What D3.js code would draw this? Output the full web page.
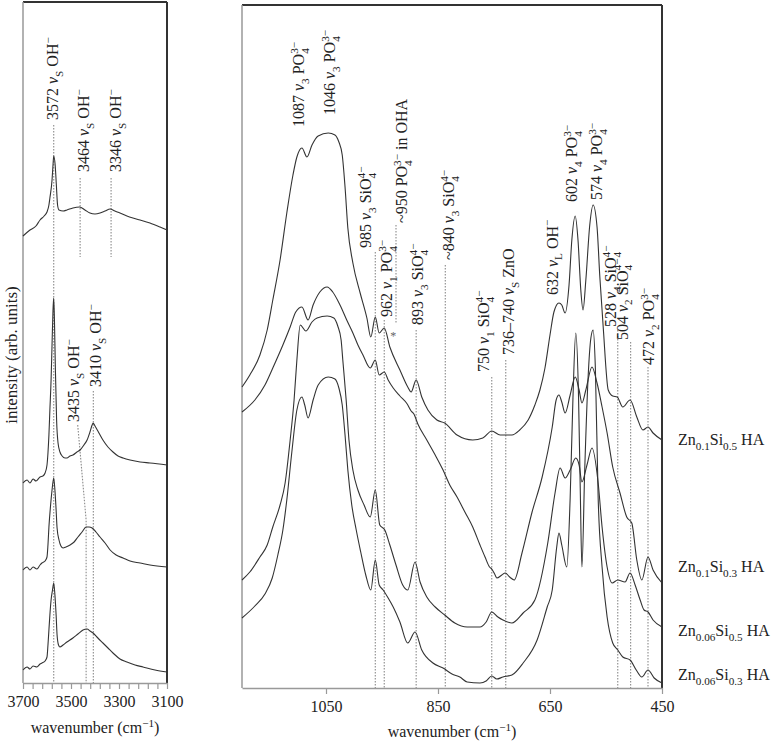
<!DOCTYPE html>
<html><head><meta charset="utf-8">
<script src="https://cdn.jsdelivr.net/npm/d3@7"></script>
<style>
body{margin:0;background:#fff;}
svg{display:block;font-family:"Liberation Serif","Times New Roman",serif;}
text{white-space:pre;fill:#222;}
</style>
</head><body>
<svg id="c" width="776" height="742"></svg>
<script>
// ---------------- DATA ----------------
// OH stretching region (left panel): [wavenumber, intensity (arb. units)]
const ohZn01Si05 = [[3700,447],[3671,453],[3646,457],[3629,463],[3612,467],[3600,471],[3592,478],[3588,485],[3579,503],[3575,518],[3572,527],[3566,518],[3561,498],[3556,478],[3550,473],[3533,472],[3517,473],[3492,475],[3464,476],[3442,473],[3421,470],[3400,469],[3379,470],[3358,472],[3337,474],[3317,472],[3296,470],[3267,467],[3242,465],[3212,463],[3171,460],[3129,456],[3100,453]];
const ohZn01Si03 = [[3700,200],[3683,203],[3671,200],[3658,204],[3646,202],[3629,206],[3617,207],[3608,210],[3600,218],[3596,230],[3592,248],[3588,273],[3583,303],[3579,338],[3575,373],[3572,385],[3569,363],[3565,313],[3560,263],[3554,240],[3546,231],[3537,227],[3525,225],[3517,225],[3504,227],[3492,228],[3475,231],[3462,233],[3446,238],[3433,243],[3421,251],[3412,258],[3408,260],[3400,257],[3388,252],[3367,243],[3346,236],[3325,231],[3304,227],[3283,225],[3254,223],[3212,221],[3171,220],[3100,218]];
const ohZn006Si05 = [[3700,113],[3683,116],[3671,113],[3658,116],[3642,114],[3629,118],[3621,120],[3608,122],[3600,126],[3596,138],[3592,156],[3585,178],[3579,193],[3572,205],[3567,193],[3562,173],[3558,155],[3550,143],[3542,137],[3533,135],[3521,136],[3504,138],[3487,141],[3471,146],[3454,151],[3437,156],[3425,156],[3412,155],[3396,151],[3379,146],[3358,140],[3337,133],[3312,128],[3283,125],[3254,122],[3212,120],[3171,118],[3100,116]];
const ohZn006Si03 = [[3700,13],[3683,16],[3671,14],[3658,17],[3642,16],[3629,19],[3621,20],[3608,22],[3600,26],[3596,38],[3592,53],[3588,68],[3583,83],[3577,93],[3572,100],[3567,88],[3562,68],[3558,48],[3552,38],[3546,36],[3533,38],[3517,41],[3492,45],[3471,49],[3450,53],[3433,54],[3421,52],[3408,50],[3388,45],[3367,40],[3346,35],[3325,30],[3296,24],[3267,21],[3233,18],[3200,16],[3150,13],[3100,11]];

// Phosphate / silicate region (right panel): [wavenumber, intensity (arb. units)]
const poZn01Si05 = [[1200,301],[1186,313],[1168,333],[1155,358],[1145,388],[1132,428],[1120,475],[1109,513],[1102,531],[1093,540],[1084,531],[1075,543],[1064,552],[1046,555],[1034,553],[1027,546],[1021,533],[1016,501],[1011,460],[1002,425],[989,395],[977,370],[970,351],[962,371],[955,355],[946,360],[936,341],[918,318],[904,301],[898,296],[889,308],[879,291],[868,278],[852,268],[838,265],[816,253],[788,248],[770,250],[754,257],[739,253],[718,253],[704,258],[689,268],[677,283],[668,298],[659,320],[650,353],[643,376],[634,385],[629,383],[623,375],[616,403],[611,448],[605,472],[600,448],[595,398],[591,378],[586,408],[579,463],[573,483],[566,461],[561,411],[555,361],[546,298],[538,292],[530,291],[520,281],[507,288],[495,271],[484,258],[475,261],[466,255],[450,248]];
const poZn01Si03 = [[1200,276],[1177,288],[1159,303],[1145,320],[1127,343],[1114,361],[1104,376],[1093,381],[1082,368],[1073,383],[1061,396],[1048,401],[1038,396],[1025,383],[1013,368],[1002,355],[993,343],[984,333],[971,320],[962,328],[955,313],[946,316],[939,308],[930,300],[918,292],[905,284],[898,277],[893,274],[886,264],[870,248],[855,233],[841,218],[829,203],[816,191],[802,176],[788,161],[775,143],[766,131],[758,121],[754,119],[748,113],[745,110],[736,113],[730,115],[722,111],[714,108],[700,135],[682,176],[664,211],[646,261],[639,288],[634,293],[629,286],[623,275],[614,293],[605,311],[598,298],[593,285],[586,298],[575,321],[566,305],[557,281],[548,255],[538,221],[525,195],[513,171],[504,165],[495,128],[486,108],[475,131],[466,118],[450,105]];
const poZn006Si05 = [[1200,108],[1186,116],[1168,131],[1155,143],[1145,161],[1132,183],[1123,205],[1114,248],[1107,288],[1102,328],[1096,363],[1086,357],[1075,366],[1066,370],[1048,372],[1036,370],[1029,362],[1023,348],[1020,328],[1014,288],[1009,248],[1002,218],[993,198],[982,183],[971,171],[962,198],[954,163],[945,158],[936,143],[925,123],[913,103],[904,98],[891,126],[882,106],[870,91],[855,81],[838,73],[820,65],[798,61],[775,61],[764,66],[754,76],[743,71],[734,68],[718,65],[698,75],[677,88],[654,145],[641,195],[632,220],[623,210],[614,218],[604,230],[598,223],[593,206],[584,223],[575,240],[564,205],[557,161],[548,121],[539,105],[529,108],[516,106],[507,115],[498,103],[489,88],[482,78],[475,76],[466,68],[450,61]];
const poZn006Si03 = [[1200,70],[1177,82],[1159,94],[1146,110],[1136,133],[1127,158],[1120,188],[1111,236],[1102,278],[1093,291],[1088,283],[1082,270],[1073,288],[1064,303],[1046,311],[1034,309],[1027,300],[1021,283],[1016,253],[1011,218],[1004,183],[996,158],[988,136],[979,113],[970,98],[962,128],[955,103],[948,98],[939,90],[930,81],[918,66],[904,45],[891,56],[879,38],[859,25],[841,20],[825,14],[811,11],[798,6],[775,5],[764,7],[754,12],[745,9],[734,11],[718,13],[698,25],[673,48],[655,81],[646,98],[638,141],[634,155],[629,143],[620,121],[614,190],[609,290],[604,355],[599,290],[596,200],[593,121],[588,218],[582,310],[577,350],[573,358],[569,320],[564,190],[557,121],[548,71],[538,45],[529,38],[520,31],[507,28],[496,18],[486,11],[475,18],[464,10],[450,5]];

const sampleNames = ["Zn|_0.1|Si|_0.5| HA","Zn|_0.1|Si|_0.3| HA","Zn|_0.06|Si|_0.5| HA","Zn|_0.06|Si|_0.3| HA"];
const sampleLabelLevel = [248,121,57,13];

// left-panel band labels
const ohBandLabels = ["3572 |*ν|_S| OH|^−","3464 |*ν|_S| OH|^−","3346 |*ν|_S| OH|^−","3435 |*ν|_S| OH|^−","3410 |*ν|_S| OH|^−"];
const ohBandTextWn = [3575,3446,3312,3487,3396];
const ohBandTextBase = [563,511,511,261,296];
const ohBandLines = [
  [[3572,558],[3572,0]],
  [[3462,505],[3462,426]],
  [[3333,505],[3333,426]],
  [[3472,258],[3437,163],[3437,0]],
  [[3407,292],[3407,0]]
];

// right-panel band labels
const poBandLabels = ["1087 |*ν|_3| PO|_4|^3−","1046 |*ν|_3| PO|_4|^3−","985 |*ν|_3| SiO|_4|^4−","962 |*ν|_1| PO|_4|^3−","~950 PO|_4|^3−| in OHA","893 |*ν|_3| SiO|_4|^4−","~840 |*ν|_3| SiO|_4|^4−","750 |*ν|_1| SiO|_4|^4−","736–740 |*ν|_S| ZnO","632 |*ν|_L| OH|^−","602 |*ν|_4| PO|_4|^3−","574 |*ν|_4| PO|_4|^3−","528 |*ν|_4| SiO|_4|^4−","504 |*ν|_2| SiO|_4|^4−","472 |*ν|_2| PO|_4|^3−"];
const poBandTextWn = [1098,1043,979,941,914,886,830,768,723,646,611,566,541,521,473];
const poBandTextBase = [561,573,440,371,465,363,428,316,333,393,486,488,361,348,323];
const poBandLines = [null,null,[[962,436],[962,0]],[[946,368],[946,0]],[[925,463],[925,365]],[[889,358],[889,0]],[[837,423],[837,0]],[[754,311],[754,0]],[[729,328],[729,0]],null,null,null,[[529,358],[529,0]],[[506,346],[506,0]],[[475,321],[475,0]]];
const asteriskPos = [930,353];

const ohMinorTicks = [3700,3660,3620,3580,3540,3500,3460,3420,3380,3340,3300,3260,3220,3180,3140,3100];
const ohTickLabels = [3700,3500,3300,3100];
const poTickLabels = [1050,850,650,450];

// ---------------- DRAW ----------------
const svg = d3.select("#c");
const FS = 16;

function rich(sel, spec, fs){
  const sfs = fs*0.7;
  let shift = 0, prevSub = false, prevW = 0;
  spec.split("|").forEach(seg=>{
    let type = "n", t = seg;
    if(seg[0]==="_"){type="sub"; t=seg.slice(1);}
    else if(seg[0]==="^"){type="sup"; t=seg.slice(1);}
    else if(seg[0]==="*"){type="it"; t=seg.slice(1);}
    const ts = sel.append("tspan").text(t);
    let target = 0;
    if(type==="sub"){ target = fs*0.3; ts.attr("font-size",sfs); }
    else if(type==="sup"){ target = -fs*0.4; ts.attr("font-size",sfs); if(prevSub) ts.attr("dx",-prevW); }
    else if(type==="it"){ ts.attr("font-style","italic"); }
    if(target!==shift){ ts.attr("dy",(target-shift).toFixed(2)); shift = target; }
    prevSub = type==="sub"; prevW = t.length*sfs*0.5;
  });
}

// scales
const lx = d3.scaleLinear().domain([3700,3100]).range([23,167]);
const ly = d3.scaleLinear().domain([0,681]).range([683,2]);
const rx = d3.scaleLinear().domain([1200,450]).range([242,662]);
const ry = d3.scaleLinear().domain([0,683]).range([688,5]);

function frame(xs, ys){
  const [x0,x1] = xs.range(), [y0,y1] = [ys.range()[1], ys.range()[0]];
  svg.append("line").attr("x1",x0).attr("x2",x1).attr("y1",y0).attr("y2",y0).attr("stroke","#333").attr("stroke-width",2);
  svg.append("line").attr("x1",x1).attr("x2",x1).attr("y1",y0).attr("y2",y1).attr("stroke","#333").attr("stroke-width",2);
  svg.append("line").attr("x1",x0).attr("x2",x0).attr("y1",y0).attr("y2",y1).attr("stroke","#999").attr("stroke-width",1.5);
}

function bottomAxis(xs, ys, tickVals, labelVals){
  const g = svg.append("g").attr("transform",`translate(0,${ys.range()[0]})`);
  g.call(d3.axisBottom(xs).tickValues(tickVals).tickSize(6).tickSizeOuter(0).tickPadding(7)
     .tickFormat(d=> labelVals.includes(d) ? d : ""));
  g.select(".domain").attr("stroke","#999").attr("stroke-width",1.5);
  g.selectAll(".tick line").attr("stroke","#999").attr("stroke-width",1.2);
  g.selectAll(".tick text").attr("font-family","Liberation Serif, serif").attr("font-size",FS).attr("fill","#222");
  g.attr("font-family",null);
}

function dotted(pts, xs, ys){
  svg.append("path").attr("d", d3.line().x(d=>xs(d[0])).y(d=>ys(d[1]))(pts))
    .attr("fill","none").attr("stroke","#8a8a8a").attr("stroke-width",1.1).attr("stroke-dasharray","1.6,1.4");
}

function bandLabel(spec, wn, base, xs, ys){
  const x = xs(wn) + 0.33*FS, y = ys(base);
  const t = svg.append("text").attr("transform",`translate(${x},${y}) rotate(-90)`).attr("font-size",FS);
  rich(t, spec, FS);
}

const spec = d3.line().curve(d3.curveMonotoneX);

// ---- left panel
frame(lx, ly);
bottomAxis(lx, ly, ohMinorTicks, ohTickLabels);
ohBandLines.forEach(l=>dotted(l, lx, ly));
[ohZn01Si05, ohZn01Si03, ohZn006Si05, ohZn006Si03].forEach(s=>{
  svg.append("path").attr("d", spec.x(d=>lx(d[0])).y(d=>ly(d[1]))(s))
    .attr("fill","none").attr("stroke","#333").attr("stroke-width",1.1);
});
ohBandLabels.forEach((s,i)=>bandLabel(s, ohBandTextWn[i], ohBandTextBase[i], lx, ly));
{
  const t = svg.append("text").attr("x", d3.mean(lx.range())).attr("y",733).attr("text-anchor","middle").attr("font-size",FS);
  rich(t, "wavenumber (cm|^−1|)", FS);
  svg.append("text").attr("transform","translate(16.5,355) rotate(-90)").attr("text-anchor","middle")
    .attr("font-size",17).text("intensity (arb. units)");
}

// ---- right panel
frame(rx, ry);
bottomAxis(rx, ry, poTickLabels, poTickLabels);
poBandLines.forEach(l=>{ if(l) dotted(l, rx, ry); });
[poZn01Si05, poZn01Si03, poZn006Si05, poZn006Si03].forEach(s=>{
  svg.append("path").attr("d", spec.x(d=>rx(d[0])).y(d=>ry(d[1]))(s))
    .attr("fill","none").attr("stroke","#333").attr("stroke-width",1.1);
});
poBandLabels.forEach((s,i)=>bandLabel(s, poBandTextWn[i], poBandTextBase[i], rx, ry));
svg.append("text").attr("x",rx(asteriskPos[0])).attr("y",ry(asteriskPos[1])+5).attr("text-anchor","middle")
  .attr("font-size",12).style("fill","#666").text("*");
{
  const t = svg.append("text").attr("x", d3.mean(rx.range())).attr("y",737).attr("text-anchor","middle").attr("font-size",FS);
  rich(t, "wavenumber (cm|^−1|)", FS);
}
sampleNames.forEach((s,i)=>{
  const t = svg.append("text").attr("x",678).attr("y",ry(sampleLabelLevel[i])+5).attr("font-size",FS);
  rich(t, s, FS);
});
</script>
</body></html>
